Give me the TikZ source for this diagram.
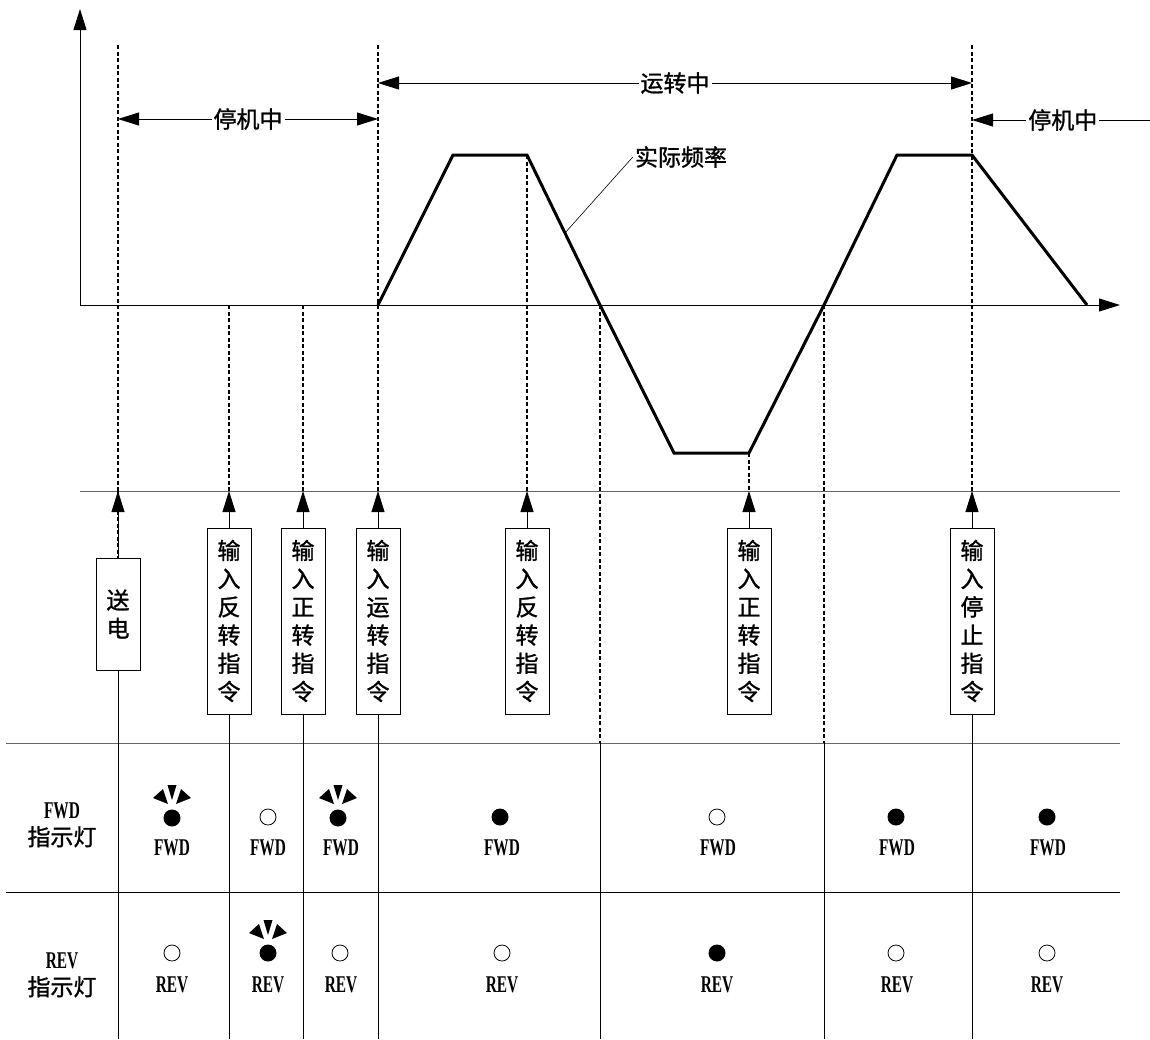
\documentclass[tikz,border=0pt]{standalone}
\usepackage{fontspec}
\setmainfont{Liberation Serif}
\newfontfamily\cjk[FakeBold=1.2]{Noto Sans CJK SC}
\newfontfamily\narrowserif[FakeStretch=0.64]{Liberation Serif Bold}
\usetikzlibrary{calc,arrows.meta}

\tikzset{
  guide/.style={dash pattern=on 4pt off 2.5pt, line width=1.2pt},
  rule/.style={line width=1pt, draw=black!60},
  axis/.style={line width=1pt},
  curve/.style={line width=3pt},
  tip/.style={-{Triangle[length=21pt,width=13pt]}},
  twotip/.style={{Triangle[length=21pt,width=13pt]}-{Triangle[length=21pt,width=13pt]}},
  cmdbox/.style={draw, line width=0.8pt, minimum width=44pt, inner sep=0pt,
    align=center, fill=white, font=\cjk\fontsize{23}{28.2}\selectfont},
  lbl/.style={font=\cjk\fontsize{23}{28}\selectfont, fill=white, inner sep=2pt},
  lamptxt/.style={font=\narrowserif\fontsize{24}{26}\selectfont, inner sep=0pt},
  rowtxt/.style={align=center, inner sep=0pt, font=\fontsize{23}{27}\selectfont},
  dark/.pic={\draw[line width=0.8pt] (0,0) circle (8pt);},
  lit/.pic={\fill (0,0) circle (8.5pt);},
  flash/.pic={\fill (0,0) circle (8.5pt);
    \fill (-19,-20) -- (-9,-29) -- (-4,-14) -- cycle;
    \fill (19,-20) -- (9,-29) -- (4,-14) -- cycle;
    \fill (-4.5,-33) -- (4.5,-33) -- (0,-18) -- cycle;},
}

\begin{document}
\begin{tikzpicture}[x=1pt, y=-1pt]
  \useasboundingbox (0,0) rectangle (1150,1039);

  % reference heights
  \coordinate (top) at (0,45);
  \coordinate (zero) at (0,305);
  \coordinate (cmd) at (0,491);
  \coordinate (tab) at (0,743);
  \coordinate (bot) at (0,1039);

  % axes
  \coordinate (O) at (80,305);
  \coordinate (yend) at (80,9);
  \coordinate (xend) at (1120,305);
  \draw[axis,tip] (O) -- (yend);
  \draw[axis,tip] (O) -- (xend);

  % command boxes
  \node[cmdbox, minimum height=112pt] (pw) at (118,614) {送\\电};
  \node[cmdbox, minimum height=186pt] (rv1) at (229,621) {输\\入\\反\\转\\指\\令};
  \node[cmdbox, minimum height=186pt] (fw1) at (303,621) {输\\入\\正\\转\\指\\令};
  \node[cmdbox, minimum height=186pt] (run) at (378,621) {输\\入\\运\\转\\指\\令};
  \node[cmdbox, minimum height=186pt] (rv2) at (527,621) {输\\入\\反\\转\\指\\令};
  \node[cmdbox, minimum height=186pt] (fw2) at (749,621) {输\\入\\正\\转\\指\\令};
  \node[cmdbox, minimum height=186pt] (stp) at (972,621) {输\\入\\停\\止\\指\\令};

  % frequency curve
  \coordinate (c0) at (378,305);
  \coordinate (c1) at (453,155);
  \coordinate (c2) at (527,155);
  \coordinate (c3) at (600,305);
  \coordinate (c4) at (674,453);
  \coordinate (c5) at (749,453);
  \coordinate (c6) at (824,305);
  \coordinate (c7) at (897,155);
  \coordinate (c8) at (972,155);
  \coordinate (c9) at (1087,305);
  \draw[curve] (c0) -- (c1) -- (c2) -- (c3) -- (c4) -- (c5) -- (c6) -- (c7) -- (c8) -- (c9);

  % label of the curve
  \node[lbl, fill=none] (freq) at (681,157) {实际频率};
  \coordinate (k) at ($(c2)!0.52!(c3)$);
  \draw[line width=0.6pt] (freq.west) -- (k);

  % horizontal rules
  \draw[rule] (O |- cmd) -- (xend |- cmd);
  \draw[rule] (6,743) -- (xend |- tab);
  \draw[line width=1pt] (6,892) -- (1120,892);

  % dashed guides
  \draw[guide] (pw.north |- top) -- (pw.north |- cmd);
  \draw[guide] (rv1.north |- zero) -- (rv1.north |- cmd);
  \draw[guide] (fw1.north |- zero) -- (fw1.north |- cmd);
  \draw[guide] (run.north |- top) -- (run.north |- cmd);
  \draw[guide] (c2) -- (rv2.north |- cmd);
  \draw[guide] (c5) -- (fw2.north |- cmd);
  \draw[guide] (stp.north |- top) -- (stp.north |- cmd);
  \draw[guide] (c3) -- (c3 |- tab);
  \draw[guide] (c6) -- (c6 |- tab);
  \draw[guide] (pw.north |- cmd) -- (pw.north);

  % command arrows
  \foreach \b in {pw,rv1,fw1,run,rv2,fw2,stp}
    \draw[line width=0.8pt,tip] (\b.north) -- (\b.north |- cmd);

  % table columns
  \foreach \b in {pw,rv1,fw1,run,stp}
    \draw[line width=0.8pt] (\b.south) -- (\b.south |- bot);
  \draw[line width=0.8pt] (c3 |- tab) -- (c3 |- bot);
  \draw[line width=0.8pt] (c6 |- tab) -- (c6 |- bot);

  % state spans
  \draw[line width=0.8pt,twotip] (pw.north |- 0,119) -- node[lbl] (idle1) {停机中} (run.north |- 0,119);
  \draw[line width=0.8pt,twotip] (run.north |- 0,83) -- node[lbl] (busy) {运转中} (stp.north |- 0,83);
  \coordinate (rend) at (1150,120);
  \draw[line width=0.8pt,tip] (rend) -- node[lbl, pos=0.49] (idle2) {停机中} (stp.north |- rend);

  % row titles
  \node[rowtxt] (fwdrow) at (62,825) {{\narrowserif\fontsize{24}{27}\selectfont FWD}\\{\cjk 指示灯}};
  \node[rowtxt] (revrow) at (62,975) {{\narrowserif\fontsize{24}{27}\selectfont REV}\\{\cjk 指示灯}};

  % FWD lamps
  \foreach \x in {172,338} \pic at (\x,818) {flash};
  \foreach \x in {268,717} \pic at (\x,817) {dark};
  \foreach \x in {500,896,1047} \pic at (\x,817) {lit};
  \foreach \x in {172,268,341,502,718,897,1048}
    \node[lamptxt] (fwd\x) at (\x,848) {FWD};

  % REV lamps
  \pic at (268,953) {flash};
  \foreach \x in {172,340,502,896,1047} \pic at (\x,953) {dark};
  \pic at (717,953) {lit};
  \foreach \x in {172,268,341,502,717,897,1047}
    \node[lamptxt] (rev\x) at (\x,985) {REV};
\end{tikzpicture}
\end{document}
